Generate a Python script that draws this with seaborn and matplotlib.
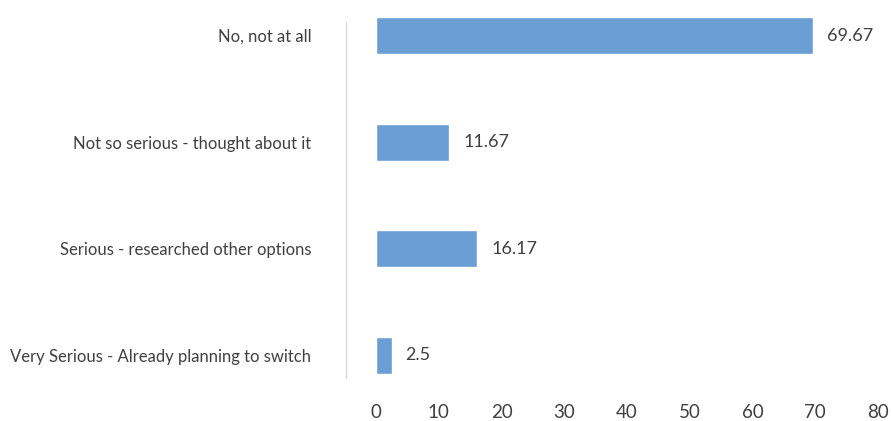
import matplotlib
matplotlib.use("Agg")
import matplotlib.pyplot as plt
import seaborn as sns
import pandas as pd

# Survey responses: how seriously respondents considered switching
categories = [
    "No, not at all",
    "Not so serious - thought about it",
    "Serious - researched other options",
    "Very Serious - Already planning to switch",
]
values = [69.67, 11.67, 16.17, 2.5]
x_ticks = [0, 10, 20, 30, 40, 50, 60, 70, 80]

df = pd.DataFrame({"category": categories, "value": values})

sns.set_theme(style="white")
plt.rcParams["font.family"] = ["Lato", "DejaVu Sans"]
text_color = "#404040"

fig = plt.figure(figsize=(8.91, 4.21), dpi=100)
W, H = 891, 421
left_px, right_px, top_px, bottom_px = 346, 878, 22, 378
ax = fig.add_axes([left_px / W, 1 - bottom_px / H,
                   (right_px - left_px) / W, (bottom_px - top_px) / H])

sns.barplot(data=df, x="value", y="category", orient="h",
            color="#6A9ED4", saturation=1, width=0.347, ax=ax)
for patch in ax.patches:
    patch.set_clip_on(False)

ax.set_xlim(-4.78, 80)
ax.set_ylim(3.211, -0.127)
ax.set_xticks(x_ticks)
ax.set_xticklabels([str(t) for t in x_ticks])
ax.set_xlabel("")
ax.set_ylabel("")

for i, v in enumerate(values):
    ax.annotate(f"{v:g}", xy=(v, i), xytext=(10, 0), textcoords="offset points",
                va="center", ha="left", fontsize=13, color=text_color)

ax.tick_params(axis="y", length=0, pad=25, labelsize=12, labelcolor=text_color)
ax.tick_params(axis="x", length=0, pad=19, labelsize=13.5, labelcolor=text_color)

for side in ["top", "right", "bottom"]:
    ax.spines[side].set_visible(False)
ax.spines["left"].set_color("#D9D9D9")
ax.spines["left"].set_linewidth(1)
ax.spines["left"].set_position(("data", -4.78))

fig.savefig("out.png", dpi=100)
